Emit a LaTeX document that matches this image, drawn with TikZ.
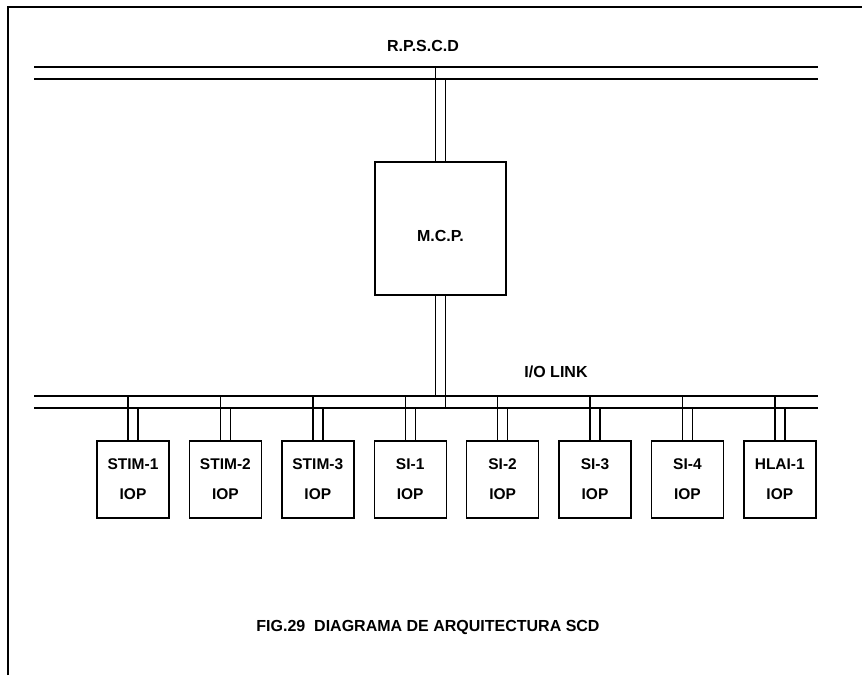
\documentclass[tikz,border=0pt]{standalone}
\usepackage{fontspec}
\setmainfont{Liberation Sans}
\usepackage{tikz}
\usetikzlibrary{positioning}

\begin{document}
\begin{tikzpicture}[
                x=1pt, y=-1pt,
                line width=1.4pt,
                font=\fontsize{16}{19}\selectfont\bfseries,
                bus/.style={line width=1.6pt},
                link/.style={line width=1.4pt},
                iop_box/.style={rectangle, draw, line width=1.4pt, minimum width=72pt, minimum height=77pt, inner sep=0pt, align=center, font=\fontsize{15.5}{30}\selectfont\bfseries},
                label_text/.style={font=\fontsize{16}{19}\selectfont\bfseries}
            ]
                \useasboundingbox (0,0) rectangle (862,675);

                % Frame
                \draw (8,675) -- (8,7) -- (862,7);

                % R.P.S.C.D bus
                \coordinate (rtop) at (34,67);
                \coordinate (rbot) at (34,79);
                \draw[bus] (rtop) -- ++(784,0);
                \draw[bus] (rbot) -- ++(784,0);
                \node[label_text] (rpscd) at (423,46) {R.P.S.C.D};

                % M.C.P.
                \node[rectangle, draw, minimum width=131pt, minimum height=133pt, text height=26pt, text depth=0pt] (mcp) at (440.5,228.5) {M.C.P.};
                \draw[link] ([xshift=-5pt]mcp.north) -- ([xshift=-5pt]mcp.north |- rtop);
                \draw[link] ([xshift=5pt]mcp.north) -- ([xshift=5pt]mcp.north |- rbot);

                % I/O LINK bus
                \coordinate (iotop) at (34,396);
                \coordinate (iobot) at (34,408);
                \draw[bus] (iotop) -- ++(784,0);
                \draw[bus] (iobot) -- ++(784,0);
                \node[label_text] (iolink) at (556,372) {I/O LINK};
                \draw[link] ([xshift=-5pt]mcp.south) -- ([xshift=-5pt]mcp.south |- iotop);
                \draw[link] ([xshift=5pt]mcp.south) -- ([xshift=5pt]mcp.south |- iobot);

                % IOP boxes
                \node[iop_box] (stim1) at (133,479.5) {STIM-1\\IOP};
                \node[iop_box, right=19pt of stim1] (stim2) {STIM-2\\IOP};
                \node[iop_box, right=19pt of stim2] (stim3) {STIM-3\\IOP};
                \node[iop_box, right=19pt of stim3] (si1) {SI-1\\IOP};
                \node[iop_box, right=19pt of si1] (si2) {SI-2\\IOP};
                \node[iop_box, right=19pt of si2] (si3) {SI-3\\IOP};
                \node[iop_box, right=19pt of si3] (si4) {SI-4\\IOP};
                \node[iop_box, right=19pt of si4] (hlai1) {HLAI-1\\IOP};

                % stubs to the bus
                \foreach \b in {stim1,stim2,stim3,si1,si2,si3,si4,hlai1}{
                    \draw[link] ([xshift=-5pt]\b.north) -- ([xshift=-5pt]\b.north |- iotop);
                    \draw[link] ([xshift=5pt]\b.north) -- ([xshift=5pt]\b.north |- iobot);
                }

                % Caption
                \node[label_text] (caption) at (428,627) {FIG.29\ \ DIAGRAMA DE ARQUITECTURA SCD};

            \end{tikzpicture}
\end{document}
